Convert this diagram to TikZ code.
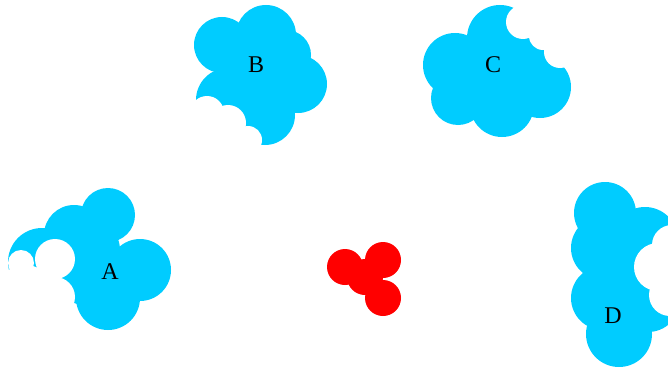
\documentclass[tikz,border=0pt]{standalone}
\usepackage{fontspec}
\setmainfont{Liberation Serif}
\definecolor{cloudblue}{HTML}{00CCFF}
\begin{document}
\begin{tikzpicture}[x=1pt,y=-1pt,
  puff/.style={fill=cloudblue,draw=none},
  bite/.style={fill=white,draw=none},
  blob/.style={fill=red,draw=none},
  lbl/.style={font=\fontsize{24}{28}\selectfont,text=black}]
\useasboundingbox (0,0) rectangle (668,369);
% Cloud A
\foreach \x/\y/\r in {108/215/27, 140/270/31, 108/298/32, 74/235/30, 42/262/34, 85/275/30, 90/250/30}
  \fill[puff] (\x,\y) circle (\r);
\foreach \x/\y/\r in {55/259/20, 55/297/20, 21/263/13, 25/295/30, 48/322/10}
  \fill[bite] (\x,\y) circle (\r);
\node[lbl] (A) at (110,272) {A};
% Cloud B
\foreach \x/\y/\r in {222/45/28, 266/35/30, 298/84/29, 286/55/25, 265/115/30, 228/100/32, 255/80/30}
  \fill[puff] (\x,\y) circle (\r);
\foreach \x/\y/\r in {207/113/17, 228/123/18, 248/140/14}
  \fill[bite] (\x,\y) circle (\r);
\node[lbl] (B) at (256,65) {B};
% Cloud C
\foreach \x/\y/\r in {455/65/32, 500/38/33, 458/98/27, 502/105/32, 540/87/31, 530/55/28, 495/75/30}
  \fill[puff] (\x,\y) circle (\r);
\foreach \x/\y/\r in {523/22/17, 543/36/14, 560/52/16, 575/30/16}
  \fill[bite] (\x,\y) circle (\r);
\node[lbl] (C) at (493,65) {C};
% Cloud D
\foreach \x/\y/\r in {605/213/31, 603/248/32, 603/298/32, 619/334/33, 645/240/33, 648/300/32, 625/275/30}
  \fill[puff] (\x,\y) circle (\r);
\foreach \x/\y/\r in {658/267/24, 672/245/20, 670/295/21}
  \fill[bite] (\x,\y) circle (\r);
\node[lbl] (D) at (613,316) {D};
% Red blob
\foreach \x/\y in {345/267, 383/260, 383/298, 365/277}
  \fill[blob] (\x,\y) circle (18);
\end{tikzpicture}
\end{document}
